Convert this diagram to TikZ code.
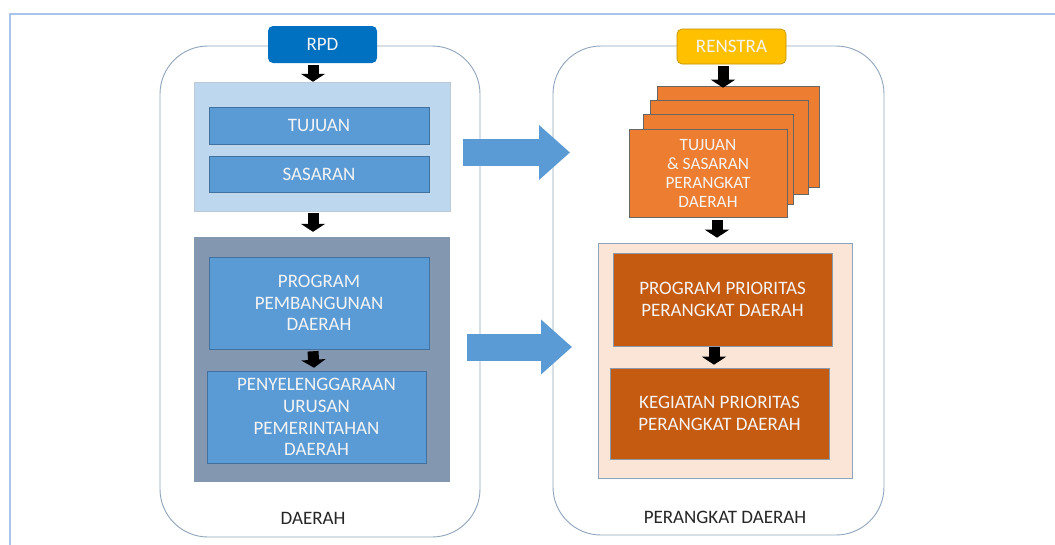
\documentclass[tikz,border=0pt]{standalone}
\usepackage{fontspec}
\setmainfont{Carlito}
\usetikzlibrary{arrows.meta,calc}
\definecolor{rpdblue}{HTML}{0070C0}
\definecolor{lightbl}{HTML}{BDD7EE}
\definecolor{midbl}{HTML}{5B9BD5}
\definecolor{midedge}{HTML}{41719C}
\definecolor{slate}{HTML}{8497B0}
\definecolor{gold}{HTML}{FFC000}
\definecolor{goldedge}{HTML}{BF9000}
\definecolor{orange1}{HTML}{ED7D31}
\definecolor{rust}{HTML}{C55A11}
\definecolor{peach}{HTML}{FBE5D6}
\definecolor{framecol}{HTML}{A9C4E8}
\definecolor{edgecol}{HTML}{8FA5BD}
\definecolor{txtw}{HTML}{F4F4F4}
\definecolor{txtd}{HTML}{262626}
\tikzset{
  outerbox/.style={draw=edgecol, line width=0.9pt, rounded corners=48pt, fill=white},
  wbox/.style={inner sep=0pt, align=center, text=txtw, font=\fontsize{19}{21.7}\selectfont},
  bluebox/.style={wbox, fill=midbl, draw=midedge, line width=0.5pt},
  lightbox/.style={fill=lightbl, draw=edgecol!60, line width=0.5pt},
  slatebox/.style={fill=slate},
  orangebox/.style={wbox, fill=orange1, draw=gray!80!black, line width=0.6pt},
  peachbox/.style={fill=peach, draw=edgecol, line width=0.6pt},
  rustbox/.style={wbox, fill=rust, draw=edgecol!70!gray, line width=0.6pt},
  headbox/.style={wbox, rounded corners=5pt},
  lbl/.style={text=txtd, font=\fontsize{19}{21.7}\selectfont},
  blk/.style={black, line width=11pt, -{Triangle[width=24pt,length=8pt]}},
  bigarrow/.style={midbl, line width=27pt, -{Triangle[width=53pt,length=31pt]}},
}
\begin{document}
\begin{tikzpicture}[x=1pt,y=-1pt]
\useasboundingbox (0,0) rectangle (1055,544);
\fill[white] (0,0) rectangle (1055,544);
% frame
\draw[framecol, line width=2pt] (1056,13.5) -- (9.5,13.5) -- (9.5,545);

% outer rounded boxes
\node[outerbox, minimum width=320pt, minimum height=491pt] (left) at (320,291.5) {};
\node[outerbox, minimum width=331pt, minimum height=489pt] (right) at (718.5,290.5) {};

% left column
\node[headbox, fill=rpdblue, minimum width=109pt, minimum height=37pt] (rpd) at (322.5,44.5) {RPD};
\node[lightbox, minimum width=256pt, minimum height=129pt] (lb) at (322,146.5) {};
\node[bluebox, minimum width=220pt, minimum height=37pt] (tujuan) at (319,125.5) {TUJUAN};
\node[bluebox, minimum width=220pt, minimum height=36pt] (sasaran) at (319,174) {SASARAN};
\node[slatebox, minimum width=256pt, minimum height=245pt] (dark) at (322,359.5) {};
\node[bluebox, minimum width=220pt, minimum height=92pt] (prog) at (319,303) {PROGRAM\\PEMBANGUNAN\\DAERAH};
\node[bluebox, minimum width=219pt, minimum height=92pt] (peny) at (316.5,417) {PENYELENGGARAAN\\URUSAN\\PEMERINTAHAN\\DAERAH};
\node[lbl] (daerah) at (313,518) {DAERAH};

% right column
\node[headbox, fill=gold, draw=goldedge, line width=0.6pt, minimum width=109pt, minimum height=35pt] (renstra) at (731.5,46.5) {RENSTRA};
\node[orangebox, minimum width=162pt, minimum height=101pt] (s4) at (738,136.5) {};
\node[orangebox, minimum width=158pt, minimum height=94pt] (s3) at (729,147) {};
\node[orangebox, minimum width=150pt, minimum height=90pt] (s2) at (718,159) {};
\node[orangebox, minimum width=158pt, minimum height=88pt, font=\fontsize{17.3}{19}\selectfont] (s1) at (708,173) {TUJUAN\\\& SASARAN\\PERANGKAT\\DAERAH};
\node[peachbox, minimum width=254pt, minimum height=235pt] (peach) at (725,360.5) {};
\node[rustbox, minimum width=219pt, minimum height=93pt] (pp) at (722.5,299.5) {PROGRAM PRIORITAS\\PERANGKAT DAERAH};
\node[rustbox, minimum width=219pt, minimum height=91pt] (kp) at (719.5,413.5) {KEGIATAN PRIORITAS\\PERANGKAT DAERAH};
\node[lbl] (pdlabel) at (725,517) {PERANGKAT DAERAH};

% black down arrows
\draw[blk] ([xshift=-9.5pt,yshift=-2pt]rpd.south) -- ([xshift=-9pt]lb.north);
\draw[blk] ([xshift=-9pt,yshift=-2pt]lb.south) -- ([xshift=-9pt,yshift=5pt]dark.north);
\draw[blk] ([xshift=-6pt,yshift=-2pt]prog.south) -- ([xshift=-2.5pt,yshift=3pt]peny.north);
\draw[blk] ([xshift=-8.5pt,yshift=-2pt]renstra.south) -- ([xshift=-15pt,yshift=-2pt]s4.north);
\draw[blk] ([xshift=9pt,yshift=-3pt]s1.south) -- ([xshift=-8pt,yshift=5pt]peach.north);
\draw[blk] ([xshift=-8.5pt,yshift=-1pt]pp.south) -- ([xshift=-5.5pt,yshift=3pt]kp.north);

% big blue arrows
\coordinate (a1s) at (463,152.5);
\coordinate (a1e) at (570,152.5);
\coordinate (a2s) at (467,347);
\coordinate (a2e) at (572,347);
\draw[bigarrow] (a1s) -- (a1e);
\draw[bigarrow] (a2s) -- (a2e);
\end{tikzpicture}
\end{document}
